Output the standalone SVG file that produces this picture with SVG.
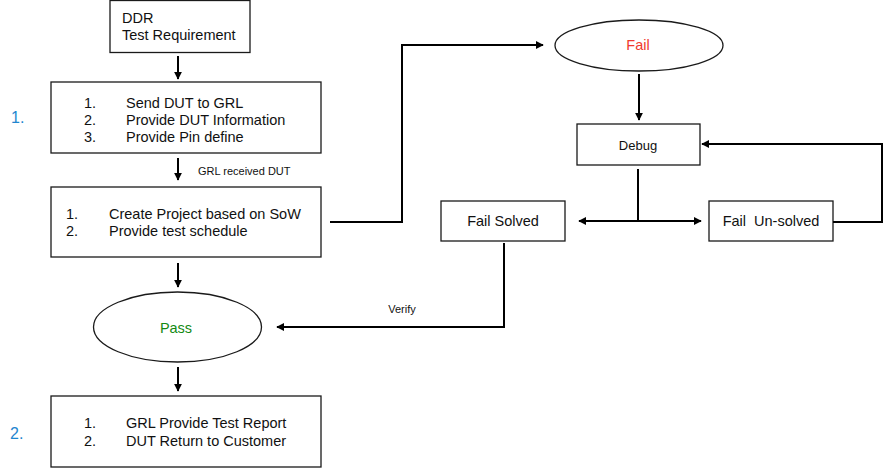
<svg xmlns="http://www.w3.org/2000/svg" width="885" height="468" viewBox="0 0 885 468">
<style>
  .box { fill: #ffffff; stroke: #1a1a1a; stroke-width: 1.3; }
  .t { font-family: "Liberation Sans", Arial, sans-serif; font-size: 14.5px; fill: #111111; }
  .s { font-family: "Liberation Sans", Arial, sans-serif; font-size: 11px; fill: #111111; }
  .num { font-family: "Liberation Sans", Arial, sans-serif; font-size: 16px; fill: #1f86cf; }
  .c { fill: none; stroke: #000000; stroke-width: 2; marker-end: url(#ah); }
  .cn { fill: none; stroke: #000000; stroke-width: 2; }
</style>
<defs>
  <marker id="ah" viewBox="0 0 10 10" refX="9" refY="5" markerWidth="4" markerHeight="4" markerUnits="strokeWidth" orient="auto">
    <path d="M0,0 L10,5 L0,10 z" fill="#000000"/>
  </marker>
</defs>
<rect width="885" height="468" fill="#ffffff"/>

<text class="num" x="11" y="123">1.</text>
<text class="num" x="10" y="439">2.</text>

<g id="ddr">
  <rect class="box" x="110" y="0.5" width="140" height="52"/>
  <text class="t" x="122" y="23">DDR</text>
  <text class="t" x="122" y="40">Test Requirement</text>
</g>

<g id="step1">
  <rect class="box" x="51" y="82" width="270" height="71"/>
  <text class="t" x="84" y="108">1.</text>
  <text class="t" x="126" y="108">Send DUT to GRL</text>
  <text class="t" x="84" y="125">2.</text>
  <text class="t" x="126" y="125">Provide DUT Information</text>
  <text class="t" x="84" y="142">3.</text>
  <text class="t" x="126" y="142">Provide Pin define</text>
</g>

<g id="step2">
  <rect class="box" x="51" y="187" width="270" height="70"/>
  <text class="t" x="66" y="219">1.</text>
  <text class="t" x="109" y="219">Create Project based on SoW</text>
  <text class="t" x="66" y="236">2.</text>
  <text class="t" x="109" y="236">Provide test schedule</text>
</g>

<g id="pass">
  <ellipse class="box" cx="177.5" cy="327" rx="84" ry="35"/>
  <text class="t" x="176" y="333" text-anchor="middle" fill="#138a13" style="fill:#138a13">Pass</text>
</g>

<g id="step3">
  <rect class="box" x="51" y="396" width="270" height="71"/>
  <text class="t" x="84" y="428">1.</text>
  <text class="t" x="126" y="428">GRL Provide Test Report</text>
  <text class="t" x="84" y="446">2.</text>
  <text class="t" x="126" y="446">DUT Return to Customer</text>
</g>

<g id="fail">
  <ellipse class="box" cx="639" cy="45.5" rx="84" ry="25.5"/>
  <text class="t" x="638" y="50" text-anchor="middle" style="fill:#f03a2e">Fail</text>
</g>

<g id="debug">
  <rect class="box" x="577" y="124" width="123" height="41"/>
  <text class="t" x="638" y="150" text-anchor="middle" style="font-size:13px">Debug</text>
</g>

<g id="failsolved">
  <rect class="box" x="441" y="201" width="124" height="40"/>
  <text class="t" x="503" y="226" text-anchor="middle">Fail Solved</text>
</g>

<g id="failunsolved">
  <rect class="box" x="709" y="201" width="124" height="40"/>
  <text class="t" x="771" y="226" text-anchor="middle" xml:space="preserve">Fail  Un-solved</text>
</g>

<g id="connectors">
  <path class="c" d="M178,56 V79"/>
  <path class="c" d="M178,158 V180"/>
  <text class="s" x="198" y="175">GRL received DUT</text>
  <path class="c" d="M178,263 V287"/>
  <path class="c" d="M178,367 V391"/>
  <path class="c" d="M330,222 H402 V45 H543"/>
  <path class="c" d="M639,74 V120"/>
  <path class="cn" d="M638,169 V221"/>
  <path class="c" d="M638,221 H579"/>
  <path class="c" d="M638,221 H701"/>
  <path class="c" d="M833,222 H882 V144 H702"/>
  <path class="c" d="M504,243 V327 H277"/>
  <text class="s" x="402" y="313" text-anchor="middle">Verify</text>
</g>
</svg>
